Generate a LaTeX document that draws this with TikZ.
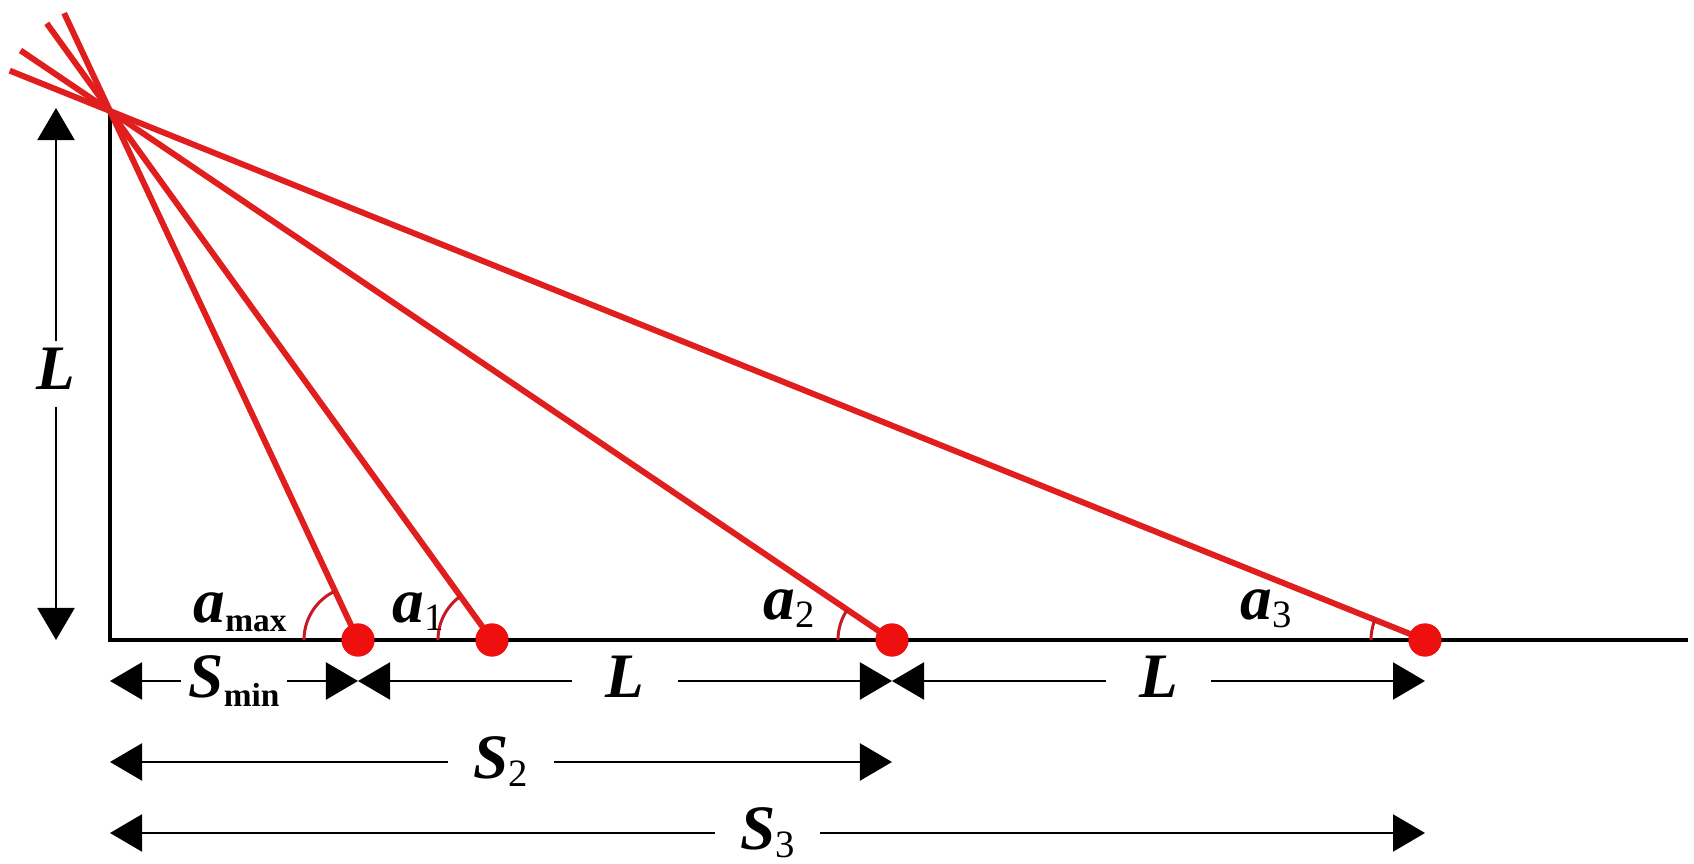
\documentclass[tikz,border=0pt]{standalone}
\usepackage{fontspec}
\setmainfont{Liberation Serif}
\usetikzlibrary{arrows.meta,calc,angles}

\definecolor{rayred}{RGB}{225,30,30}
\definecolor{dotred}{RGB}{240,15,15}
\definecolor{arcred}{RGB}{200,25,35}

\newcommand{\bigsym}[1]{{\fontsize{18}{20}\selectfont\bfseries\itshape #1}}
\newcommand{\subw}[1]{\raisebox{-0.09cm}{\fontsize{9.5}{10}\selectfont\bfseries #1}}
\newcommand{\subn}[1]{\raisebox{-0.08cm}{\fontsize{11}{12}\selectfont #1}}

\begin{document}
\begin{tikzpicture}[
    x=0.01cm, y=0.01cm,
    axis/.style={line width=1.15pt, black},
    ray/.style={line width=1.7pt, rayred},
    dot/.style={circle, fill=dotred, inner sep=0pt, minimum size=0.33cm},
    ang/.style={draw=arcred, line width=0.85pt, angle radius=0.54cm},
    dim/.style={{Triangle[length=0.32cm,width=0.37cm]}-{Triangle[length=0.32cm,width=0.37cm]}, line width=0.6pt},
    dimlbl/.style={fill=white, inner sep=0pt, minimum width=1.05cm, text height=0.42cm, text depth=0.1cm},
    anglbl/.style={anchor=base west, inner sep=0pt}
]
\useasboundingbox (0,0) rectangle (1694,864);

% Grundpunkte
\coordinate (o) at (110,224);
\coordinate (apex) at (110,753);
\coordinate (gend) at (1688,224);

% Messpunkte
\node[dot] (d1) at (358,224) {};
\node[dot] (d2) at (492,224) {};
\node[dot] (d3) at (892,224) {};
\node[dot] (d4) at (1425,224) {};

% Masslinien
\coordinate (vb) at (56,224);
\coordinate (vt) at (56,756);
\coordinate (r0) at (110,183);
\coordinate (r1) at (d1 |- r0);
\coordinate (r2) at (d3 |- r0);
\coordinate (r3) at (d4 |- r0);
\coordinate (s0) at (110,102);
\coordinate (s2) at (d3 |- s0);
\coordinate (t0) at (110,31);
\coordinate (t3) at (d4 |- t0);

\draw[dim] (vb) -- node[dimlbl, minimum height=0.65cm] (lv) {\bigsym{L}} (vt);
\draw[dim] (r0) -- node[dimlbl] (smin) {\bigsym{S}\subw{min}} (r1);
\draw[dim] (r1) -- node[dimlbl] (l1) {\bigsym{L}} (r2);
\draw[dim] (r2) -- node[dimlbl] (l2) {\bigsym{L}} (r3);
\draw[dim] (s0) -- node[dimlbl] (stwo) {\bigsym{S}\subn{2}} (s2);
\draw[dim] (t0) -- node[dimlbl] (sthree) {\bigsym{S}\subn{3}} (t3);

% Achsen
\draw[axis] (apex) -- (o) -- (gend);

% Strahlen
\draw[ray] (d1.center) -- ($(apex)!-1.08cm!(d1)$);
\draw[ray] (d2.center) -- ($(apex)!-1.08cm!(d2)$);
\draw[ray] (d3.center) -- ($(apex)!-1.08cm!(d3)$);
\draw[ray] (d4.center) -- ($(apex)!-1.08cm!(d4)$);

% Winkel
\pic[ang] {angle=apex--d1--o};
\pic[ang] {angle=apex--d2--o};
\pic[ang] {angle=apex--d3--o};
\pic[ang] {angle=apex--d4--o};

% Punkte obenauf
\node[dot] at (d1) {};
\node[dot] at (d2) {};
\node[dot] at (d3) {};
\node[dot] at (d4) {};

% Winkelbeschriftung
\node[anglbl] (amax) at (193,241) {\bigsym{a}\subw{max}};
\node[anglbl] (aone) at (392,241) {\bigsym{a}\subn{1}};
\node[anglbl] (atwo) at (763,244) {\bigsym{a}\subn{2}};
\node[anglbl] (athree) at (1240,244) {\bigsym{a}\subn{3}};

\end{tikzpicture}
\end{document}
